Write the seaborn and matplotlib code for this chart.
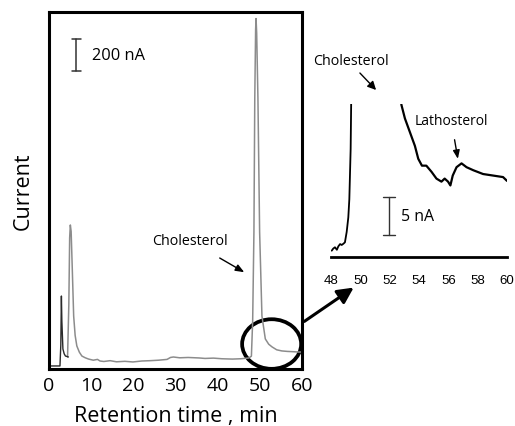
import matplotlib
matplotlib.use("Agg")
import matplotlib.pyplot as plt
import seaborn as sns
import pandas as pd
from matplotlib.patches import Ellipse

sns.set_theme(style="white")
plt.rcParams['font.family'] = ['Open Sans', 'DejaVu Sans']
plt.rcParams['text.color'] = 'black'
plt.rcParams['axes.labelcolor'] = 'black'
plt.rcParams['xtick.color'] = 'black'

# ---- main chromatogram (time in min, current in nA) ----
early_time = [0.3, 1.5, 2.6, 2.8, 2.94, 3.05, 3.3, 3.6, 3.9, 4.3, 4.6]
early_current = [19, 19, 19, 150, 456, 300, 125, 95, 81, 78, 75]

main_time = [4.4, 4.7, 4.9, 5.06, 5.25, 5.5, 5.85, 6.2, 6.6, 7.2, 7.8, 8.6, 9.4, 10.5, 11.5,
             12.1, 13.0, 14.5, 16.0, 18.0, 19.9, 22.0, 24.0, 26.0, 28.0, 28.8, 29.5,
             31.0, 33.0, 35.6, 37.0, 39.0, 41.0, 43.5, 45.5, 47.4, 48.0, 48.3, 48.6,
             48.8, 49.0, 49.1, 49.25, 49.55, 49.95, 50.5, 51.3, 52.1, 52.9, 54.0, 55.2,
             56.5, 58.0, 59.2, 60.0]
main_current = [75, 400, 820, 900, 860, 644, 331, 210, 144, 105, 81, 70, 62, 55, 60,
                50, 47, 52, 45, 48, 44, 50, 52, 55, 60, 72, 75,
                70, 72, 69, 66, 68, 64, 62, 64, 69, 80, 300, 856,
                1690, 2120, 2190, 2100, 1690, 856, 331, 188, 155, 138, 120, 113,
                110, 108, 106, 106]

# ---- inset (48-60 min, current in nA offset) ----
inset_time_a = [48.05, 48.15, 48.27, 48.4, 48.5, 48.62, 48.73, 48.85, 48.95, 49.07, 49.18,
                49.25, 49.34, 49.38]
inset_current_a = [0.83, 1.1, 1.28, 0.95, 1.4, 1.7, 1.58, 1.75, 1.93, 3.3, 5.2,
                   7.6, 14.2, 21.0]
inset_time_b = [52.78, 52.8, 53.04, 53.38, 53.72, 53.95, 54.2, 54.5, 54.85, 55.19, 55.53,
                55.75, 55.98, 56.14, 56.3, 56.56, 56.9, 57.24, 57.7, 58.37, 59.05,
                59.73, 60.0]
inset_current_b = [21.0, 20.0, 18.2, 16.4, 14.6, 12.9, 12.0, 12.0, 11.2, 10.3, 9.9,
                   10.3, 9.9, 9.4, 10.7, 11.8, 12.3, 11.8, 11.4, 10.9, 10.7,
                   10.5, 10.0]

main_ticks = [0, 10, 20, 30, 40, 50, 60]
inset_ticks = [48, 50, 52, 54, 56, 58, 60]

fig = plt.figure(figsize=(5.15, 4.27), dpi=100)
ax = fig.add_axes([49 / 515, 1 - 370 / 427, 253 / 515, 357 / 427])

df_e = pd.DataFrame({"t": early_time, "i": early_current})
df_m = pd.DataFrame({"t": main_time, "i": main_current})
sns.lineplot(data=df_m, x="t", y="i", ax=ax, color="#8c8c8c", lw=1.1, sort=False)
sns.lineplot(data=df_e, x="t", y="i", ax=ax, color="#2a2a2a", lw=1.0, sort=False)

ax.set_xlim(0, 60)
ax.set_ylim(0, 2231)
ax.set_xticks(main_ticks)
ax.set_xticklabels([str(v) for v in main_ticks], fontsize=14)
ax.set_yticks([])
ax.tick_params(axis="x", direction="in", length=7, width=2, pad=5, colors="black")
for s in ax.spines.values():
    s.set_visible(True)
    s.set_color("black")
    s.set_linewidth(2.2)
ax.set_xlabel("Retention time , min", fontsize=15.5, labelpad=8)
ax.set_ylabel("Current", fontsize=15.5, labelpad=11)

# scale bar 200 nA
sb_x, sb_y0, sb_y1 = 6.5, 1862, 2062
ax.plot([sb_x, sb_x], [sb_y0, sb_y1], color="#333333", lw=1.1)
ax.plot([sb_x - 1.0, sb_x + 1.0], [sb_y0, sb_y0], color="#333333", lw=1.1)
ax.plot([sb_x - 1.0, sb_x + 1.0], [sb_y1, sb_y1], color="#333333", lw=1.1)
ax.text(10.2, 1962, "200 nA", fontsize=11.8, va="center", ha="left")

ax.annotate("Cholesterol", xy=(46.3, 605), xytext=(33.5, 800), fontsize=10.3,
            ha="center", va="center",
            arrowprops=dict(arrowstyle="-|>,head_length=0.5,head_width=0.2", color="black",
                            lw=1.0, shrinkA=9, shrinkB=0))

ell = Ellipse((52.8, 156), width=14.0, height=310, fill=False, edgecolor="black",
              lw=2.7, clip_on=False, angle=0)
ax.add_patch(ell)

# arrow from ellipse to inset
fig.add_artist(matplotlib.patches.FancyArrowPatch(
    (302 / 515, 1 - 324 / 427), (356 / 515, 1 - 287 / 427),
    transform=fig.transFigure, arrowstyle="-|>,head_length=6,head_width=3",
    color="black", lw=2.2, mutation_scale=1.6))

# ---- inset ----
axi = fig.add_axes([331 / 515, 1 - 258 / 427, 176 / 515, 153 / 427])
axi.patch.set_alpha(0)
df_a = pd.DataFrame({"t": inset_time_a, "i": inset_current_a})
df_b = pd.DataFrame({"t": inset_time_b, "i": inset_current_b})
sns.lineplot(data=df_a, x="t", y="i", ax=axi, color="black", lw=1.3, sort=False)
sns.lineplot(data=df_b, x="t", y="i", ax=axi, color="black", lw=1.6, sort=False)
axi.set_xlim(48, 60)
axi.set_ylim(0, 20.1)
axi.set_xticks(inset_ticks)
axi.set_xticklabels([str(v) for v in inset_ticks], fontsize=9.5,
                    family=["Liberation Sans Narrow", "Liberation Sans", "DejaVu Sans"])
axi.set_yticks([])
axi.tick_params(axis="x", direction="in", length=3, width=1.3, pad=12, colors="black")
for k in ["left", "right", "top"]:
    axi.spines[k].set_visible(False)
axi.spines["bottom"].set_visible(True)
axi.spines["bottom"].set_color("black")
axi.spines["bottom"].set_linewidth(2.0)
axi.set_xlabel("")
axi.set_ylabel("")

# inset scale bar 5 nA
isx, iy0, iy1 = 51.95, 2.9, 7.9
axi.plot([isx, isx], [iy0, iy1], color="#333333", lw=1.0)
axi.plot([isx - 0.4, isx + 0.4], [iy0, iy0], color="#333333", lw=1.0)
axi.plot([isx - 0.4, isx + 0.4], [iy1, iy1], color="#333333", lw=1.0)
axi.text(52.75, 5.4, "5 nA", fontsize=11.4, va="center", ha="left")

axi.annotate("Lathosterol", xy=(56.65, 12.9), xytext=(56.2, 17.9), fontsize=10,
             ha="center", va="center", annotation_clip=False,
             arrowprops=dict(arrowstyle="-|>,head_length=0.5,head_width=0.2", color="black",
                             lw=1.0, shrinkA=6, shrinkB=0))

fig.text(351 / 515, 1 - 62 / 427, "Cholesterol", fontsize=10.3, ha="center", va="center")
fig.add_artist(matplotlib.patches.FancyArrowPatch(
    (358 / 515, 1 - 72 / 427), (378 / 515, 1 - 93 / 427),
    transform=fig.transFigure, arrowstyle="-|>,head_length=5,head_width=2.5",
    color="black", lw=1.0))

fig.savefig("out.png", dpi=100)
